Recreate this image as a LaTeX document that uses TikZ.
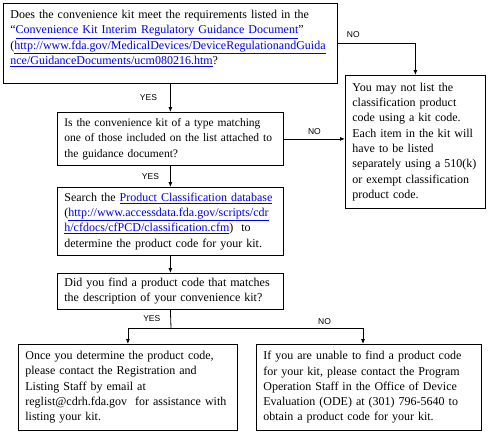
\documentclass[tikz,border=0pt]{standalone}
\usepackage{fontspec}
\setmainfont{Liberation Serif}
\newfontfamily\lblfont{Liberation Sans}
\usetikzlibrary{positioning,arrows.meta}
\definecolor{linkblue}{HTML}{0000EE}
\newcommand{\lnk}[1]{\textcolor{linkblue}{\underline{#1}}}

\begin{document}
\begin{tikzpicture}[x=1pt,y=-1pt,>={Latex[length=5pt,width=4pt]},
    box/.style={draw, line width=0.8pt, anchor=north west, align=left,
      inner xsep=7pt, inner ysep=3pt, font=\fontsize{12}{15.3}\selectfont},
    tag/.style={font=\lblfont\fontsize{8.5}{10}\selectfont, inner sep=1pt},
    flow/.style={->, line width=0.8pt}]
    \useasboundingbox (0,0) rectangle (489,432);
    % question 1
    \node[box, text width=320pt, minimum height=80pt] (q1) at (3,3)
      {Does the convenience kit meet the requirements listed in the\\
       ``\lnk{Convenience Kit Interim Regulatory Guidance Document}''\\
       (\lnk{http://www.fda.gov/MedicalDevices/DeviceRegulationandGuida}\\
       \lnk{nce/GuidanceDocuments/ucm080216.htm}?\\[-3pt]\mbox{}};
    % question 2
    \node[box, text width=212pt, minimum height=53pt,
      font=\fontsize{11.5}{15.3}\selectfont] (q2) at (57,112)
      {Is the convenience kit of a type matching\\
       \mbox{one of those included on the list attached to}\\
       the guidance document?};
    % search the database
    \node[box, text width=212pt, minimum height=68pt] (search) at (57,187)
      {Search the \lnk{Product Classification database}\\
       (\lnk{http://www.accessdata.fda.gov/scripts/cdr}\\
       \lnk{h/cfdocs/cfPCD/classification.cfm})\ \ to\\
       determine the product code for your kit.};
    % question 3
    \node[box, text width=212pt, minimum height=36pt] (q3) at (57,273)
      {Did you find a product code that matches\\
       the description of your convenience kit?};
    % no kit code
    \node[box, text width=126pt, minimum height=133pt] (nokit) at (345,75)
      {You may not list the\\
       classification product\\
       code using a kit code.\\
       Each item in the kit will\\
       have to be listed\\
       separately using a 510(k)\\
       or exempt classification\\
       product code.};
    % outcomes
    \node[box, text width=205pt, minimum height=86pt] (found) at (18,344)
      {Once you determine the product code,\\
       please contact the Registration and\\
       Listing Staff by email at\\
       reglist@cdrh.fda.gov\ \ for assistance with\\
       listing your kit.};
    \node[box, text width=211pt, minimum height=86pt] (notfound) at (256,344)
      {If you are unable to find a product code\\
       for your kit, please contact the Program\\
       Operation Staff in the Office of Device\\
       Evaluation (ODE) at (301) 796-5640 to\\
       obtain a product code for your kit.};
    \coordinate (fork) at (171,328);
    \coordinate (forkno) at (363,328);
    % connectors
    \draw[flow] (q1.south) -- node[tag, left=12pt] {YES} (q2.north);
    \draw[flow] (q1.east) -| node[tag, pos=0.1, above=4pt] {NO} (nokit.north);
    \draw[flow] (q2.east) -- node[tag, above=3pt] {NO} (q2.east -| nokit.west);
    \draw[flow] (q2.south) -- node[tag, left=10pt] {YES} (search.north);
    \draw[flow] (search.south) -- (q3.north);
    \draw[line width=0.8pt] (q3.south) -- node[tag, left=9pt] {YES} (fork);
    \draw[flow] (fork) -| (found.north);
    \draw[line width=0.8pt] (fork) -- node[tag, pos=0.8, above=2pt] {NO} (forkno);
    \draw[flow] (forkno) -- (forkno |- notfound.north);
  \end{tikzpicture}
\end{document}
